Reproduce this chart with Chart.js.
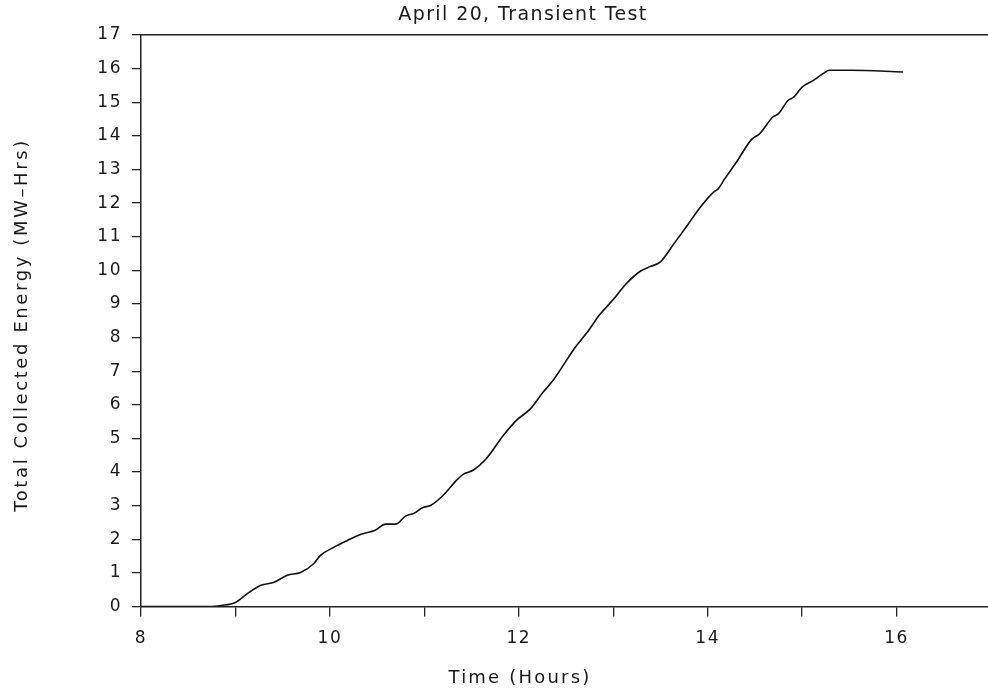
<!DOCTYPE html>
<html>
<head>
<meta charset="utf-8">
<script src="https://cdn.jsdelivr.net/npm/chart.js@4/dist/chart.umd.min.js"></script>
<style>
  html, body { margin: 0; padding: 0; background: #fff; overflow: hidden; width: 988px; height: 693px; }
  #wrap { width: 1003px; height: 693px; }
</style>
</head>
<body>
<div id="wrap"><canvas id="c" width="1003" height="693"></canvas></div>
<script>
const chartTitle = 'April 20, Transient Test';
const xTitle = 'Time (Hours)';
const yTitle = 'Total Collected Energy (MW\u2013Hrs)';

const timeHours = [8.0, 8.5, 8.75, 8.85, 9.0, 9.13, 9.27, 9.41, 9.55, 9.69, 9.83, 9.9, 10.04, 10.19, 10.33, 10.48, 10.59, 10.7, 10.8, 10.89, 10.98, 11.07, 11.2, 11.35, 11.41, 11.52, 11.65, 11.84, 11.98, 12.12, 12.25, 12.37, 12.58, 12.72, 12.86, 13.0, 13.13, 13.29, 13.39, 13.5, 13.64, 13.78, 13.92, 14.06, 14.11, 14.18, 14.3, 14.47, 14.55, 14.69, 14.75, 14.85, 14.91, 15.0, 15.12, 15.22, 15.29, 15.51, 16.07];
const energyMWh = [0, 0, 0, 0.03, 0.12, 0.39, 0.63, 0.72, 0.93, 1.01, 1.28, 1.52, 1.76, 1.97, 2.15, 2.27, 2.45, 2.45, 2.69, 2.77, 2.94, 3.01, 3.31, 3.78, 3.93, 4.06, 4.38, 5.10, 5.55, 5.87, 6.35, 6.75, 7.64, 8.14, 8.69, 9.13, 9.58, 9.98, 10.11, 10.25, 10.78, 11.32, 11.87, 12.32, 12.42, 12.72, 13.2, 13.91, 14.06, 14.56, 14.66, 15.05, 15.15, 15.45, 15.65, 15.85, 15.95, 15.95, 15.9];

const xTickValues = [8, 9, 10, 11, 12, 13, 14, 15, 16, 17];
const xTickLabels = ['8', '', '10', '', '12', '', '14', '', '16', ''];
const yTickValues = [0,1,2,3,4,5,6,7,8,9,10,11,12,13,14,15,16,17];

const points = timeHours.map((t, i) => ({ x: t, y: energyMWh[i] }));
const FONT = 'DejaVu Sans';
const INK = '#1a1a1a';

// Draws the chart title and axis titles (wide plotter-style lettering)
const titlesPlugin = {
  id: 'plotterTitles',
  beforeDraw(chart) {
    chart.ctx.letterSpacing = '1.5px';
  },
  afterDraw(chart) {
    const ctx = chart.ctx;
    const area = chart.chartArea;
    ctx.save();
    ctx.fillStyle = INK;
    ctx.textAlign = 'center';
    ctx.textBaseline = 'middle';
    // main title
    ctx.font = '19px "' + FONT + '"';
    ctx.letterSpacing = '1.4px';
    ctx.fillText(chartTitle, 523, 15);
    // x axis title
    ctx.font = '18px "' + FONT + '"';
    ctx.letterSpacing = '2.2px';
    ctx.fillText(xTitle, 520, 678);
    // y axis title
    ctx.letterSpacing = '2.6px';
    ctx.translate(22, 325);
    ctx.rotate(-Math.PI / 2);
    ctx.fillText(yTitle, 0, 0);
    ctx.restore();
  }
};

new Chart(document.getElementById('c'), {
  type: 'line',
  data: {
    datasets: [{
      data: points,
      borderColor: '#111',
      borderWidth: 1.6,
      pointRadius: 0,
      fill: false,
      cubicInterpolationMode: 'monotone'
    }]
  },
  plugins: [titlesPlugin],
  options: {
    responsive: false,
    animation: false,
    layout: { padding: { left: 0, right: 0, top: 35, bottom: 0 } },
    plugins: {
      legend: { display: false },
      tooltip: { enabled: false },
      title: { display: false }
    },
    scales: {
      x: {
        type: 'linear',
        position: 'bottom',
        min: 8, max: 17,
        afterBuildTicks: (s) => { s.ticks = xTickValues.map(v => ({ value: v })); },
        afterFit: (s) => { s.height = 86.5; },
        ticks: {
          autoSkip: false,
          maxRotation: 0,
          color: INK,
          padding: 12,
          font: { family: FONT, size: 17 },
          callback: (v) => { const i = xTickValues.indexOf(v); return i >= 0 ? xTickLabels[i] : ''; }
        },
        grid: { display: true, drawOnChartArea: false, drawTicks: true, tickLength: 10, color: '#222', lineWidth: 1.3 },
        border: { display: true, color: '#222', width: 1.5 }
      },
      xTop: {
        type: 'linear',
        position: 'top',
        min: 8, max: 17,
        afterFit: (s) => { s.height = 0; },
        ticks: { display: false },
        grid: { display: false, drawTicks: false },
        border: { display: true, color: '#222', width: 1.5 }
      },
      y: {
        type: 'linear',
        position: 'left',
        min: 0, max: 17,
        afterBuildTicks: (s) => { s.ticks = yTickValues.map(v => ({ value: v })); },
        afterFit: (s) => { s.width = 141; },
        ticks: {
          color: INK,
          padding: 10,
          font: { family: FONT, size: 17 }
        },
        grid: { display: true, drawOnChartArea: false, drawTicks: true, tickLength: 9, color: '#222', lineWidth: 1.3 },
        border: { display: true, color: '#222', width: 1.5 }
      }
    }
  }
});
</script>
</body>
</html>
